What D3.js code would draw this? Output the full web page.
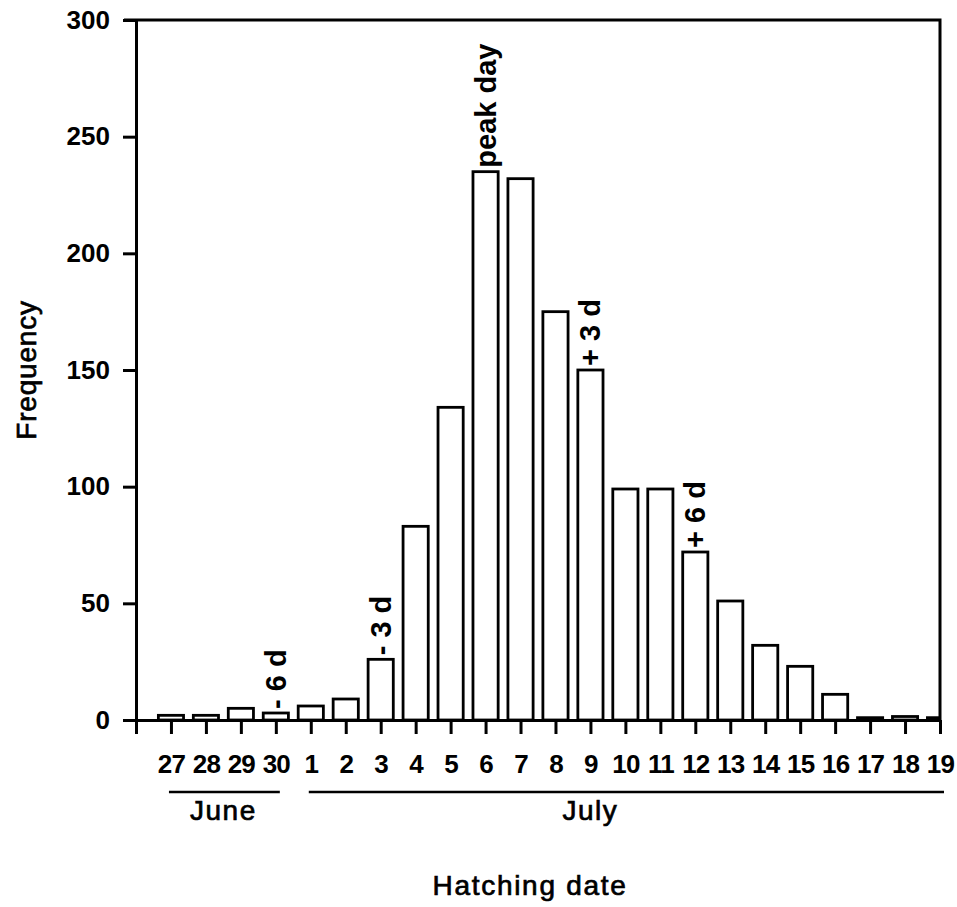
<!DOCTYPE html>
<html>
<head>
<meta charset="utf-8">
<script src="https://cdn.jsdelivr.net/npm/d3@7"></script>
<style>
  body { margin: 0; background: #fff; }
  svg { font-family: "Liberation Sans", Arial, Helvetica, sans-serif; }
  .heavy { stroke: #000; stroke-width: 0.7px; }
</style>
</head>
<body>
<svg width="957" height="907"></svg>
<script>
// hatching dates (27-30 June, 1-19 July) and number of fish hatched
const days = ["27", "28", "29", "30", "1", "2", "3", "4", "5", "6", "7", "8",
  "9", "10", "11", "12", "13", "14", "15", "16", "17", "18", "19"];
const frequency = [2, 2, 5, 3, 6, 9, 26, 83, 134, 235, 232, 175,
  150, 99, 99, 72, 51, 32, 23, 11, 1, 1.5, 1];
const yTicks = [0, 50, 100, 150, 200, 250, 300];
const months = [
  { name: "June", first: "27", last: "30", labelAt: 1.5 },
  { name: "July", first: "1", last: "19", labelAt: 12 },
];
const marks = [
  { day: "30", text: "- 6 d" },
  { day: "3", text: "- 3 d" },
  { day: "6", text: "peak day" },
  { day: "9", text: "+ 3 d" },
  { day: "12", text: "+ 6 d" },
];

const svg = d3.select("svg");
const plotL = 136, plotR = 940, plotT = 20, plotB = 720;

// one position per day; index -1 sits on the y axis
const x = d3.scaleLinear().domain([-1, days.length - 1]).range([plotL, plotR]);
const y = d3.scaleLinear().domain([0, 300]).range([plotB, plotT]);
const step = x(1) - x(0);
const barW = step * 0.72;
const idx = (d) => days.indexOf(d);

svg.append("clipPath").attr("id", "plot")
  .append("rect")
  .attr("x", plotL).attr("y", 0)
  .attr("width", plotR - plotL).attr("height", plotB);

// bars
svg.append("g")
  .attr("clip-path", "url(#plot)")
  .selectAll("rect")
  .data(days)
  .join("rect")
  .attr("x", (d, i) => x(i) - barW / 2)
  .attr("y", (d, i) => y(frequency[i]))
  .attr("width", barW)
  .attr("height", (d, i) => plotB - y(frequency[i]))
  .attr("fill", "#fff")
  .attr("stroke", "#000")
  .attr("stroke-width", 2.8);

// frame: top and right edges
svg.append("path")
  .attr("d", `M${plotL - 12},${plotT}H${plotR}V${plotB}`)
  .attr("fill", "none")
  .attr("stroke", "#000")
  .attr("stroke-width", 3);

// y axis
const yAxis = svg.append("g")
  .attr("transform", `translate(${plotL},0)`)
  .call(d3.axisLeft(y).tickValues(yTicks).tickSize(13).tickPadding(13).tickSizeOuter(0));
yAxis.selectAll("text")
  .attr("font-size", 26).attr("font-weight", "bold").attr("fill", "#000");

// x axis
const xAxis = svg.append("g")
  .attr("transform", `translate(0,${plotB})`)
  .call(d3.axisBottom(x)
    .tickValues(d3.range(-1, days.length))
    .tickFormat((i) => (i < 0 ? "" : days[i]))
    .tickSize(14).tickPadding(21).tickSizeOuter(0));
xAxis.selectAll("text")
  .attr("font-size", 26).attr("font-weight", "bold").attr("fill", "#000")
  .attr("letter-spacing", -0.8);

svg.selectAll(".domain, .tick line")
  .attr("stroke", "#000").attr("stroke-width", 3);

// month brackets
const monthG = svg.append("g").selectAll("g").data(months).join("g");
monthG.append("line")
  .attr("x1", (d) => x(idx(d.first)) - 2)
  .attr("x2", (d) => x(idx(d.last)) + 4)
  .attr("y1", 792).attr("y2", 792)
  .attr("stroke", "#000").attr("stroke-width", 2.4);
monthG.append("text")
  .attr("class", "heavy")
  .attr("x", (d) => x(d.labelAt))
  .attr("y", 820)
  .attr("text-anchor", "middle")
  .attr("font-size", 28)
  .attr("letter-spacing", 1.5)
  .text((d) => d.name);

// day markers above bars
svg.append("g").selectAll("text")
  .data(marks)
  .join("text")
  .attr("transform", (d) =>
    `translate(${x(idx(d.day)) + 10},${y(frequency[idx(d.day)]) - 4}) rotate(-90)`)
  .attr("font-size", 29)
  .attr("font-weight", "bold")
  .text((d) => d.text);

// axis titles
svg.append("text")
  .attr("class", "heavy")
  .attr("transform", `translate(36,${(plotT + plotB) / 2}) rotate(-90)`)
  .attr("text-anchor", "middle")
  .attr("font-size", 28)
  .attr("letter-spacing", 0.8)
  .text("Frequency");

svg.append("text")
  .attr("class", "heavy")
  .attr("x", 530)
  .attr("y", 895)
  .attr("text-anchor", "middle")
  .attr("font-size", 28)
  .attr("letter-spacing", 1.7)
  .text("Hatching date");
</script>
</body>
</html>
